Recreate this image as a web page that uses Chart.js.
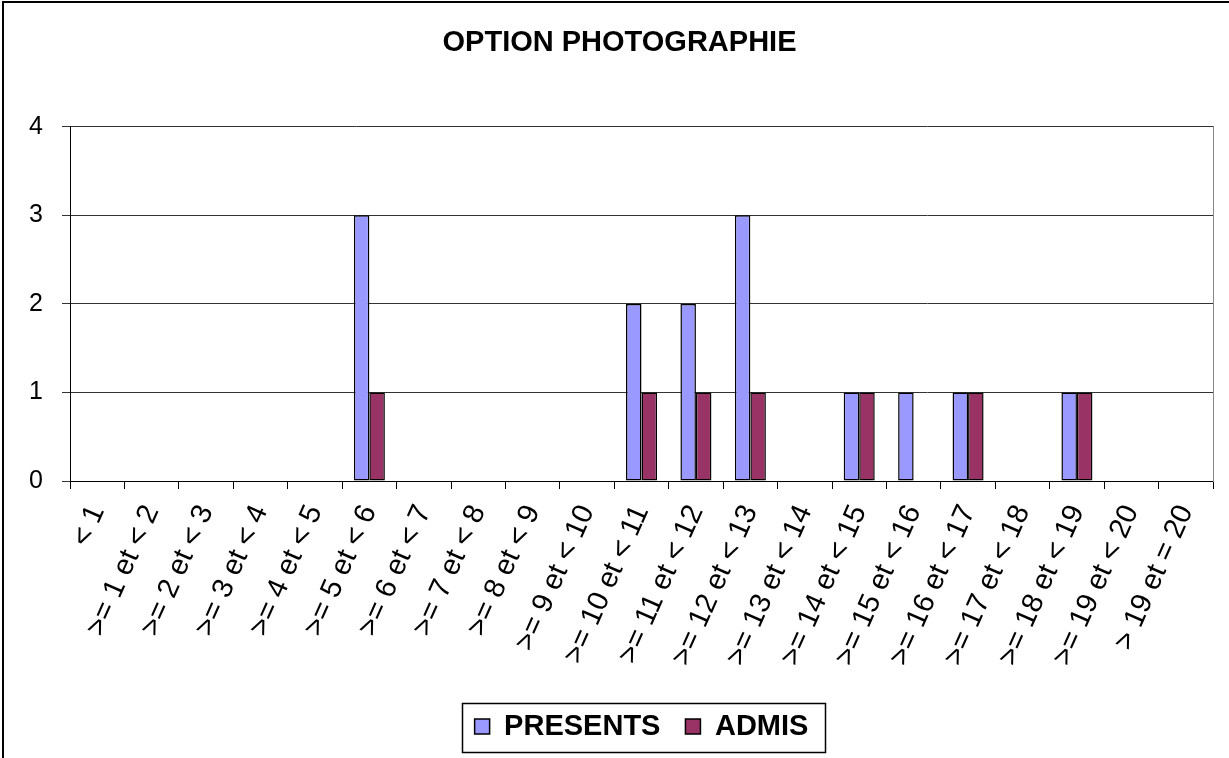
<!DOCTYPE html>
<html lang="fr">
<head>
<meta charset="utf-8">
<title>OPTION PHOTOGRAPHIE</title>
<script src="https://cdn.jsdelivr.net/npm/chart.js@4/dist/chart.umd.min.js"></script>
<style>
  html, body { margin: 0; padding: 0; background: #fff; overflow: hidden; }
  #wrap { position: relative; width: 1229px; height: 758px; }
  #frame { position: absolute; left: 2px; top: 1px; width: 1300px; height: 800px;
           border-left: 2px solid #000; border-top: 2px solid #000; box-sizing: border-box; }
  #chart { position: absolute; left: 0; top: 0; }
</style>
</head>
<body>
<div id="wrap">
  <div id="frame"></div>
  <canvas id="chart" width="1229" height="758"></canvas>
</div>
<script>
// Tranches de notes (axe des abscisses)
const categories = [
  '< 1', '>= 1 et < 2', '>= 2 et < 3', '>= 3 et < 4', '>= 4 et < 5',
  '>= 5 et < 6', '>= 6 et < 7', '>= 7 et < 8', '>= 8 et < 9', '>= 9 et < 10',
  '>= 10 et < 11', '>= 11 et < 12', '>= 12 et < 13', '>= 13 et < 14', '>= 14 et < 15',
  '>= 15 et < 16', '>= 16 et < 17', '>= 17 et < 18', '>= 18 et < 19', '>= 19 et < 20',
  '> 19 et = 20'
];
// Effectifs par tranche
const presents = [0, 0, 0, 0, 0, 3, 0, 0, 0, 0, 2, 2, 3, 0, 1, 1, 1, 0, 1, 0, 0];
const admis    = [0, 0, 0, 0, 0, 1, 0, 0, 0, 0, 1, 1, 1, 0, 1, 0, 1, 0, 1, 0, 0];
// Graduations de l'axe des ordonnées
const yTicks = [0, 1, 2, 3, 4];

const FONT = "'Liberation Sans', Arial, sans-serif";

// Cadre autour de la légende
const legendFrame = {
  id: 'legendFrame',
  afterDraw(chart) {
    const lg = chart.legend;
    if (!lg || !lg.legendHitBoxes || !lg.legendHitBoxes.length) return;
    const boxes = lg.legendHitBoxes;
    const left = Math.min(...boxes.map(b => b.left));
    const right = Math.max(...boxes.map(b => b.left + b.width));
    const mid = boxes[0].top + boxes[0].height / 2;
    const ctx = chart.ctx;
    ctx.save();
    ctx.strokeStyle = '#000';
    ctx.lineWidth = 1.5;
    ctx.strokeRect(Math.round(left - 13) + 0.5, Math.round(mid - 24) + 0.5,
                   Math.round(right - left + 29), 49);
    ctx.restore();
  }
};

new Chart(document.getElementById('chart'), {
  type: 'bar',
  data: {
    labels: categories,
    datasets: [
      { label: 'PRESENTS', data: presents, backgroundColor: '#9999FF',
        borderColor: '#000', borderWidth: 1.5, borderSkipped: false },
      { label: 'ADMIS', data: admis, backgroundColor: '#993366',
        borderColor: '#000', borderWidth: 1.5, borderSkipped: false }
    ]
  },
  options: {
    responsive: false,
    animation: false,
    layout: { padding: { left: 10, right: 0, top: 0, bottom: 7 } },
    datasets: { bar: { categoryPercentage: 0.57, barPercentage: 1.0 } },
    plugins: {
      title: {
        display: true,
        text: 'OPTION PHOTOGRAPHIE',
        color: '#000',
        font: { family: FONT, size: 29, weight: 'bold' },
        padding: { top: 26, bottom: 66 }
      },
      legend: {
        position: 'bottom',
        fullSize: false,
        labels: {
          color: '#000',
          font: { family: FONT, size: 29, weight: 'bold' },
          boxWidth: 15, boxHeight: 15,
          padding: 25,
          useBorderRadius: false
        }
      },
      tooltip: { enabled: false }
    },
    scales: {
      x: {
        grid: { display: true, drawOnChartArea: false, drawTicks: true,
                tickLength: 8, color: '#000' },
        border: { display: true, color: '#000', width: 1 },
        ticks: {
          color: '#000',
          font: { family: FONT, size: 29 },
          minRotation: 66, maxRotation: 66,
          autoSkip: false,
          padding: 11
        },
        afterFit(scale) { scale.height = 206; }
      },
      y: {
        min: 0, max: 4,
        afterBuildTicks(scale) { scale.ticks = yTicks.map(v => ({ value: v })); },
        grid: { color: '#333', drawTicks: true, tickLength: 8, lineWidth: 1 },
        border: { display: true, color: '#000', width: 1 },
        ticks: {
          color: '#000',
          font: { family: FONT, size: 25 },
          padding: 19
        },
        afterFit(scale) { scale.width = 60; }
      },
      yRight: {
        position: 'right',
        min: 0, max: 4,
        grid: { display: false },
        border: { display: true, color: '#888', width: 1 },
        ticks: { display: false },
        afterFit(scale) { scale.width = 16; }
      }
    }
  },
  plugins: [legendFrame]
});
</script>
</body>
</html>
